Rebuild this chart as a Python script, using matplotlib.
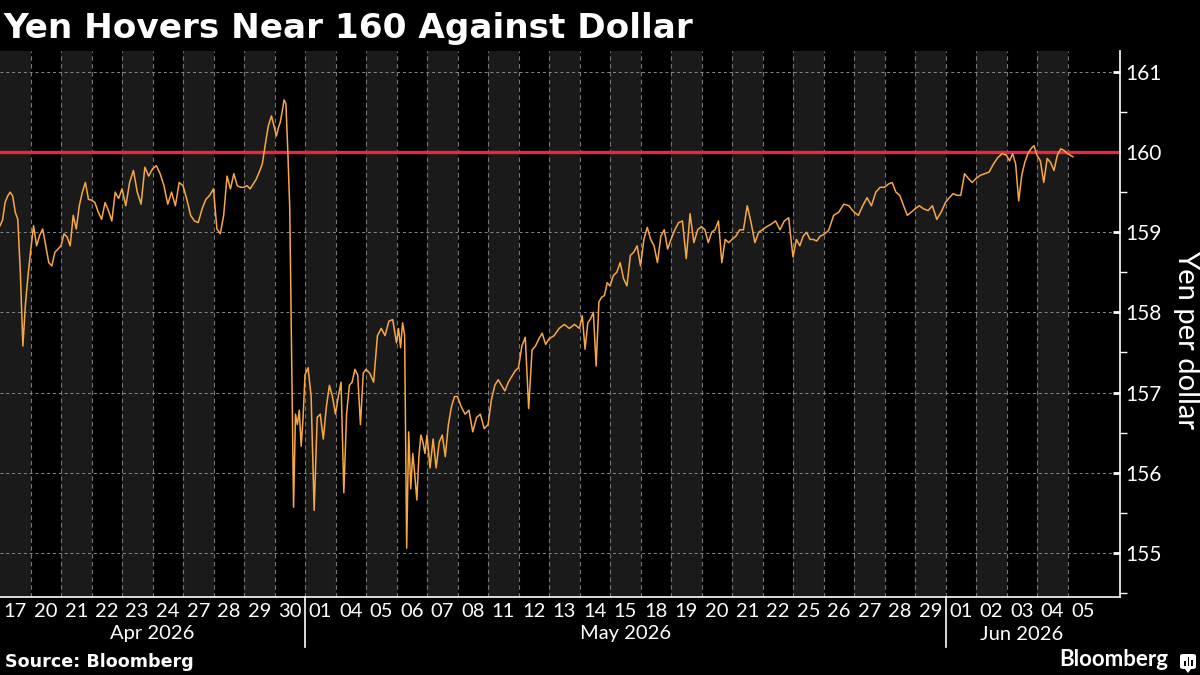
import numpy as np
import matplotlib
matplotlib.use("Agg")
import matplotlib.pyplot as plt
from matplotlib.patches import FancyBboxPatch, Rectangle, Polygon
from matplotlib.transforms import blended_transform_factory

# ---------------- data ----------------
day_labels = ["17", "20", "21", "22", "23", "24", "27", "28", "29", "30",
              "01", "04", "05", "06", "07", "08", "11", "12", "13", "14", "15",
              "18", "19", "20", "21", "22", "25", "26", "27", "28", "29",
              "01", "02", "03", "04", "05"]
month_names = ["Apr 2026", "May 2026", "Jun 2026"]
month_day_counts = [10, 21, 5]

# intraday USD/JPY readings for each trading day (yen per dollar)
apr17 = [159.08, 159.15, 159.37, 159.45, 159.50, 159.45, 159.25, 159.16, 158.50, 157.58, 158.10, 158.45]
apr20 = [158.75, 159.08, 158.83, 158.96, 159.04, 158.83, 158.62, 158.58, 158.75, 158.79]
apr21 = [158.83, 158.98, 158.94, 158.83, 159.21, 159.04, 159.33, 159.50, 159.62, 159.41]
apr22 = [159.40, 159.37, 159.25, 159.16, 159.37, 159.27, 159.14, 159.50, 159.42]
apr23 = [159.54, 159.33, 159.62, 159.77, 159.50, 159.35, 159.81, 159.70]
apr24 = [159.79, 159.83, 159.73, 159.58, 159.35, 159.50, 159.33, 159.62]
apr27 = [159.58, 159.41, 159.21, 159.14, 159.12, 159.29, 159.41, 159.46]
apr28 = [159.54, 159.04, 158.98, 159.21, 159.70, 159.54, 159.73, 159.58, 159.56]
apr29 = [159.56, 159.58, 159.54, 159.60, 159.66, 159.75, 159.85, 160.10, 160.33, 160.45]
apr30 = [160.30, 160.20, 160.30, 160.37, 160.50, 160.65, 160.60, 160.00, 159.30, 157.40,
         155.57, 156.73, 156.60, 156.78, 156.33, 156.69]
may01 = [157.22, 157.31, 156.96, 155.53, 156.69, 156.73, 156.42, 156.82, 157.09, 156.95]
may04 = [156.73, 156.95, 157.13, 155.75, 156.73, 157.09, 157.13, 157.29, 157.22, 156.60, 157.24]
may05 = [157.29, 157.24, 157.13, 157.71, 157.80, 157.71, 157.89, 157.91]
may06 = [157.62, 157.80, 157.56, 157.87, 157.71, 155.06, 156.51, 155.80, 156.24, 155.97,
         155.66, 156.20, 156.47, 156.38, 156.24]
may07 = [156.47, 156.06, 156.42, 156.06, 156.38, 156.47, 156.20, 156.60, 156.82, 156.95]
may08 = [156.95, 156.82, 156.73, 156.78, 156.51, 156.69, 156.73, 156.55]
may11 = [156.60, 156.91, 157.09, 157.16, 157.09, 157.02, 157.13, 157.20, 157.27]
may12 = [157.31, 157.58, 157.69, 156.80, 157.53, 157.58, 157.67, 157.74, 157.60]
may13 = [157.67, 157.71, 157.80, 157.85, 157.80, 157.85]
may14 = [157.80, 157.96, 157.54, 157.87, 157.92, 158.00, 157.33, 158.13, 158.19, 158.21, 158.37]
may15 = [158.33, 158.46, 158.50, 158.62, 158.42, 158.33, 158.71, 158.75, 158.83]
may18 = [158.58, 158.91, 159.06, 158.91, 158.83, 158.62, 158.95, 159.03, 158.79]
may19 = [158.91, 159.03, 159.12, 159.14, 158.67, 159.23, 158.87, 159.03]
may20 = [159.07, 159.03, 158.87, 159.00, 159.03, 159.14, 158.62, 158.91, 158.87]
may21 = [158.91, 158.95, 159.03, 159.03, 159.33, 159.12, 158.87, 159.00]
may22 = [159.03, 159.07, 159.10, 159.14, 159.03, 159.14, 159.18]
may25 = [158.69, 158.91, 158.83, 158.95, 159.00, 158.91, 158.91, 158.89, 158.95]
may26 = [158.97, 159.02, 159.21, 159.25, 159.35, 159.33]
may27 = [159.25, 159.21, 159.33, 159.43, 159.33, 159.50, 159.56]
may28 = [159.56, 159.60, 159.62, 159.50, 159.46, 159.33, 159.21, 159.25]
may29 = [159.29, 159.33, 159.29, 159.27, 159.33, 159.16, 159.25]
jun01 = [159.37, 159.43, 159.48, 159.46, 159.46, 159.73, 159.67, 159.62]
jun02 = [159.67, 159.71, 159.73, 159.75, 159.85, 159.93, 159.98]
jun03 = [159.96, 159.89, 159.98, 159.85, 159.39, 159.71, 159.87, 159.98, 160.04, 160.08]
jun04 = [159.96, 159.89, 159.62, 159.92, 159.87, 159.77, 159.96, 160.04, 160.02]
jun05 = [159.98, 159.94]
last_session_fraction = 0.18   # share of the Jun 05 session covered so far

intraday = [apr17, apr20, apr21, apr22, apr23, apr24, apr27, apr28, apr29, apr30,
            may01, may04, may05, may06, may07, may08, may11, may12, may13, may14, may15,
            may18, may19, may20, may21, may22, may25, may26, may27, may28, may29,
            jun01, jun02, jun03, jun04, jun05]
threshold = 160
y_ticks = [155, 156, 157, 158, 159, 160, 161]

# ---------------- style ----------------
BG = "#000000"
BAND = "#1a1a1a"
ORANGE = "#f7a845"
RED = "#e8283c"
GRID = "#8a8a8a"
TICK_FONT = ["Lato", "DejaVu Sans"]

W, H = 1200, 675
fig = plt.figure(figsize=(W / 100, H / 100), dpi=100, facecolor=BG)
ax = fig.add_axes([0 / W, 1 - 597 / H, 1120 / W, (597 - 51) / H])
ax.set_facecolor(BG)

n_days = len(intraday)
xs, ys = [], []
for i, vals in enumerate(intraday):
    n = len(vals)
    if i == n_days - 1:
        pos = i + last_session_fraction * np.arange(n) / max(n - 1, 1)
    else:
        pos = i + np.arange(n) / n
    xs.extend(pos)
    ys.extend(vals)

# day bands
for i in range(n_days):
    if i % 2 == 0:
        ax.axvspan(i, i + 1, color=BAND, lw=0, zorder=0)
for i in range(1, n_days):
    ax.axvline(i, color="#777777", lw=0.8, ls=(0, (4, 3)), zorder=1)
for v in y_ticks:
    ax.axhline(v, color=GRID, lw=0.7, ls=(0, (3, 3)), zorder=1)

ax.axhline(threshold, color=RED, lw=2.4, zorder=2)
ax.plot(xs, ys, color=ORANGE, lw=1.1, zorder=3)

ax.set_xlim(0, 1120 / 30.5)
ax.set_ylim(154.45, 161.26)

# axes styling
for s in ["top", "left"]:
    ax.spines[s].set_visible(False)
for s in ["right", "bottom"]:
    ax.spines[s].set_color("white")
    ax.spines[s].set_linewidth(1.2)

ax.yaxis.tick_right()
ax.set_yticks(y_ticks)
ax.set_yticklabels([str(v) for v in y_ticks], family=TICK_FONT, fontsize=15, color="white")
ax.set_yticks(np.arange(154.5, 161.5, 1.0), minor=True)
ax.tick_params(axis="y", which="major", length=5, width=2, color="white", pad=4, direction="in")
ax.tick_params(axis="y", which="minor", length=5, width=1, color="white", direction="out")

ax.set_xticks(np.arange(n_days) + 0.5)
ax.set_xticklabels(day_labels, family=TICK_FONT, fontsize=14.5, color="white")
ax.tick_params(axis="x", length=0, pad=4)

# month labels and separators
trans = blended_transform_factory(ax.transData, ax.transAxes)
axh = 597 - 51
start = 0
for name, cnt in zip(month_names, month_day_counts):
    ax.text(start + cnt / 2, -(634 - 597) / axh, name, transform=trans, ha="center", va="center",
            family=TICK_FONT, fontsize=14.5, color="white")
    if start > 0:
        ax.plot([start, start], [0, -(647 - 597) / axh], transform=trans, color="white",
                lw=1.2, clip_on=False)
    start += cnt

# y label
fig.text(1186 / W, 1 - 340 / H, "Yen per dollar", rotation=270, ha="center", va="center",
         family=TICK_FONT, fontsize=21, color="white")

# title & footer
fig.text(3 / W, 1 - 38 / H, "Yen Hovers Near 160 Against Dollar", ha="left", va="baseline",
         family=["DejaVu Sans"], fontweight="bold", fontsize=24.7, color="white")
fig.text(5 / W, 1 - 667 / H, "Source: Bloomberg", ha="left", va="baseline",
         family=["DejaVu Sans"], fontweight="bold", fontsize=12.6, color="white")
fig.text(1168 / W, 1 - 666 / H, "Bloomberg", ha="right", va="baseline",
         family=TICK_FONT, fontweight="bold", fontsize=16, color="white")

# small logo icon
icon = FancyBboxPatch((1180 / W, 1 - 669 / H), 16 / W, 15 / H,
                      boxstyle="round,pad=0,rounding_size=0.003", transform=fig.transFigure,
                      facecolor="white", edgecolor="none")
fig.patches.append(icon)
fig.patches.append(Polygon([[1185 / W, 1 - 669 / H], [1191 / W, 1 - 669 / H], [1188 / W, 1 - 673 / H]],
                           closed=True, transform=fig.transFigure, facecolor="white", edgecolor="none"))
for bx, bh in [(1184, 5), (1187.5, 9), (1191, 6)]:
    fig.patches.append(Rectangle((bx / W, 1 - 666 / H), 1.8 / W, bh / H, transform=fig.transFigure,
                                 facecolor="black", edgecolor="none"))

fig.savefig("out.png", dpi=100, facecolor=BG)
